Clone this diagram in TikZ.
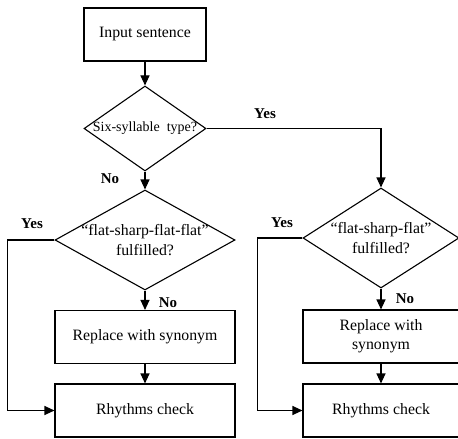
\documentclass[tikz,border=0pt]{standalone}
\usepackage{fontspec}
\setmainfont{Liberation Serif}
\usetikzlibrary{arrows.meta,shapes.geometric}
\tikzset{
  blk/.style={draw,line width=1.1pt,minimum width=180pt,minimum height=53pt,
              align=center,inner sep=2pt,font=\fontsize{15.8}{19}\selectfont},
  dia/.style={draw,diamond,line width=1.1pt,inner sep=0pt,
              minimum width=180pt,minimum height=100pt},
  txt/.style={font=\fontsize{15.8}{20}\selectfont,align=center},
  ar/.style ={-{Triangle[length=10pt,width=9pt]},line width=1.1pt},
  yn/.style ={font=\fontsize{15}{18}\selectfont\bfseries},
}
\begin{document}
\begin{tikzpicture}[x=1pt,y=-1pt]
  \useasboundingbox (0,0) rectangle (458,439);
  \node[blk,minimum width=122pt] (inp) at (145,34.5) {Input sentence};
  \node[dia,minimum width=122pt,minimum height=85pt,
        label={[font=\fontsize{14}{17}\selectfont]center:Six-syllable\ \ type?}] (six) at (145,128.5) {};
  % left branch
  \node[dia,label={[txt]center:``flat-sharp-flat-flat''\\fulfilled?}] (fsL) at (145,240) {};
  \node[blk] (repL) at (145,337) {Replace with synonym};
  \node[blk] (rhyL) at (145,410.5) {Rhythms check};
  % right branch
  \node[dia,minimum width=156pt,label={[txt]center:``flat-sharp-flat''\\fulfilled?}] (fsR) at (381,238) {};
  \node[blk,minimum width=156pt] (repR) at (381,336.5) {Replace with\\synonym};
  \node[blk,minimum width=156pt] (rhyR) at (381,410.5) {Rhythms check};
  \draw[ar] (inp)--(six);
  \draw[ar] (six)--(fsL);
  \draw[ar] (six.east) -| (fsR.north);
  \draw[ar] (fsL)--(repL);
  \draw[ar] (repL)--(rhyL);
  \draw[ar] (fsR)--(repR);
  \draw[ar] (repR)--(rhyR);
  \draw[ar] (fsL.west) -- ([xshift=-47pt]fsL.west) |- (rhyL.west);
  \draw[ar] (fsR.west) -- ([xshift=-45pt]fsR.west) |- (rhyR.west);
  \node[yn] (y1) at (265,114) {Yes};
  \node[yn] (n1) at (110,179) {No};
  \node[yn] (y2) at (32,224) {Yes};
  \node[yn] (n2) at (168,303) {No};
  \node[yn] (y3) at (282,223) {Yes};
  \node[yn] (n3) at (405,299) {No};
\end{tikzpicture}
\end{document}
